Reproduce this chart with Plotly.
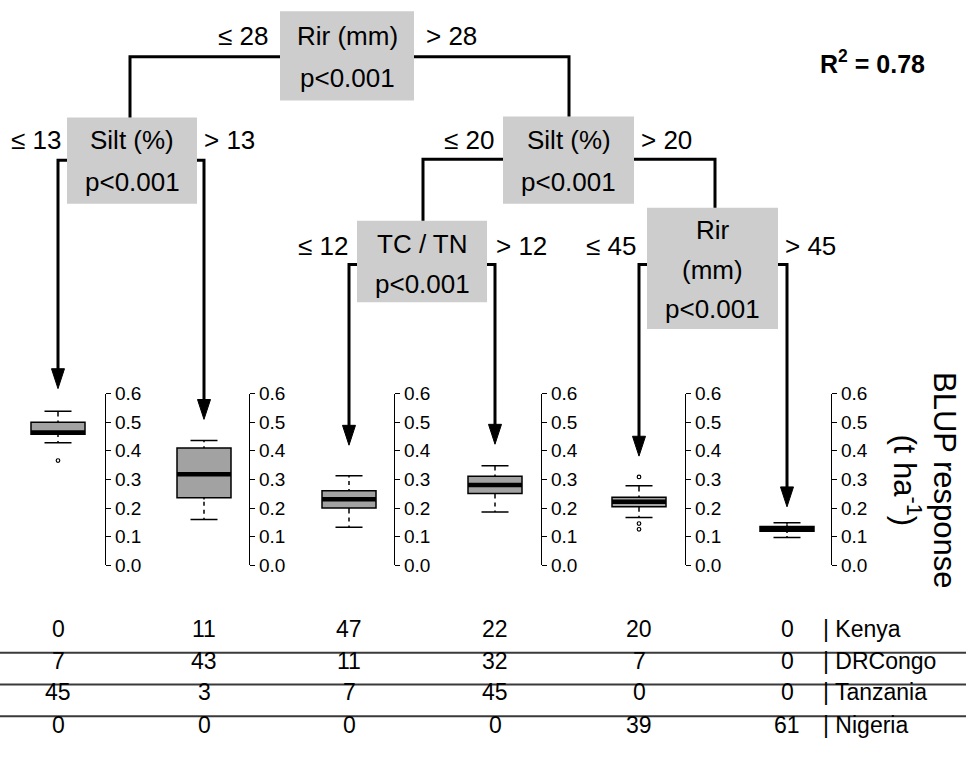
import plotly.graph_objects as go

W, H = 968, 758

# ---------------- data ----------------
# terminal-node BLUP response distributions (t ha-1)
leaf_lower = [0.428, 0.160, 0.133, 0.186, 0.167, 0.097]
leaf_q1 = [0.458, 0.236, 0.200, 0.251, 0.205, 0.119]
leaf_median = [0.464, 0.318, 0.231, 0.281, 0.222, 0.128]
leaf_q3 = [0.500, 0.410, 0.261, 0.311, 0.238, 0.136]
leaf_upper = [0.538, 0.436, 0.313, 0.348, 0.278, 0.149]
leaf_outliers = [[0.366], [], [], [], [0.309, 0.146, 0.126], []]

# inner nodes: split variable and p-value
node_labels = [["Rir (mm)", "p<0.001"],
               ["Silt (%)", "p<0.001"],
               ["Silt (%)", "p<0.001"],
               ["TC / TN", "p<0.001"],
               ["Rir", "(mm)", "p<0.001"]]
split_left = ["\u2264 28", "\u2264 13", "\u2264 20", "\u2264 12", "\u2264 45"]
split_right = ["> 28", "> 13", "> 20", "> 12", "> 45"]

r_squared = 0.78

# sites per terminal node, by country
countries = ["Kenya", "DRCongo", "Tanzania", "Nigeria"]
kenya_n = [0, 11, 47, 22, 20, 0]
drcongo_n = [7, 43, 11, 32, 7, 0]
tanzania_n = [45, 3, 7, 45, 0, 0]
nigeria_n = [0, 0, 0, 0, 39, 61]
country_counts = [kenya_n, drcongo_n, tanzania_n, nigeria_n]

y_ticks = [0.0, 0.1, 0.2, 0.3, 0.4, 0.5, 0.6]

# ---------------- layout geometry (pixels from the top-left corner) ----------------
FONT = "Liberation Sans, Arial, sans-serif"
leaf_x = [58, 204, 349, 495, 639, 787]          # box centres
axis_x = [105, 249, 394, 541, 685, 831]         # right-hand value axes
box_w = 54
axis_top, axis_bottom = 394, 567                # 0.6 and 0.0 positions

# node rectangles (x0, y0, x1, y1) and text line centres
node_rects = [(280, 9, 414, 99), (67, 116, 197, 203), (503, 115, 634, 203),
              (357, 220, 487, 302), (647, 207, 778, 329)]
node_text_y = [[34, 76], [139, 181], [139, 181], [243, 284], [229, 270, 309]]
split_left_xy = [(243, 34), (36, 139), (469, 139), (323, 245), (611, 245)]
split_right_xy = [(451, 34), (229, 139), (666, 139), (521, 245), (810, 245)]

# connectors between nodes
connectors = [
    [(280, 55), (130, 55), (130, 116)],
    [(414, 55), (569, 55), (569, 115)],
    [(503, 158), (423, 158), (423, 220)],
    [(634, 158), (715, 158), (715, 207)],
]
# brackets from inner nodes down to the terminal nodes: (start, leaf index, arrow tip y)
leaf_arrows = [((67, 159), 0, 389), ((197, 159), 1, 420),
               ((357, 264), 2, 446), ((487, 264), 3, 445),
               ((647, 264), 4, 457), ((778, 264), 5, 508)]

table_row_y = [631, 663, 695, 728]
table_rule_y = [655, 687, 719]

# vertical placement: the page is framed with a small top/bottom inset
Y_SCALE, Y_SHIFT = 0.979, 7.8


def fx(x):
    return x / W


def fy(y):
    return 1 - ((y - Y_SHIFT) / Y_SCALE) / H


fig = go.Figure()
shapes = []
annotations = []

# ---------------- tree ----------------
for rect, lines, ys in zip(node_rects, node_labels, node_text_y):
    x0, y0, x1, y1 = rect
    shapes.append(dict(type="rect", xref="paper", yref="paper",
                       x0=fx(x0), x1=fx(x1), y0=fy(y1), y1=fy(y0),
                       fillcolor="#cdcdcd", line=dict(width=0), layer="below"))
    for txt, ty in zip(lines, ys):
        annotations.append(dict(xref="paper", yref="paper", x=fx((x0 + x1) / 2), y=fy(ty),
                                text=txt, showarrow=False, xanchor="center", yanchor="middle",
                                font=dict(family=FONT, size=26, color="black")))

for lab, (tx, ty) in zip(split_left + split_right, split_left_xy + split_right_xy):
    annotations.append(dict(xref="paper", yref="paper", x=fx(tx), y=fy(ty), text=lab,
                            showarrow=False, xanchor="center", yanchor="middle",
                            font=dict(family=FONT, size=26, color="black")))


def polyline(pts, width=3):
    path = "M " + " L ".join(f"{fx(x):.5f},{fy(y):.5f}" for x, y in pts)
    shapes.append(dict(type="path", xref="paper", yref="paper", path=path,
                       line=dict(color="black", width=width)))


for pts in connectors:
    polyline(pts)

head_len, head_half = 20, 6.5
for (sx, sy), leaf, tip in leaf_arrows:
    cx = leaf_x[leaf]
    polyline([(sx, sy), (cx, sy), (cx, tip - head_len + 2)])
    tri = (f"M {fx(cx - head_half):.5f},{fy(tip - head_len):.5f} "
           f"L {fx(cx + head_half):.5f},{fy(tip - head_len):.5f} "
           f"L {fx(cx):.5f},{fy(tip):.5f} Z")
    shapes.append(dict(type="path", xref="paper", yref="paper", path=tri,
                       fillcolor="black", line=dict(color="black", width=1)))

annotations.append(dict(xref="paper", yref="paper", x=fx(872), y=fy(60),
                        text=f"<b>R<sup>2</sup> = {r_squared:.2f}</b>", showarrow=False,
                        xanchor="center", yanchor="middle",
                        font=dict(family=FONT, size=25, color="black")))

# ---------------- terminal-node boxplots ----------------
y_dom = [fy(axis_bottom), fy(axis_top)]
half = 45
axes_layout = {}
for i in range(6):
    n = "" if i == 0 else str(i + 1)
    xa, ya = "x" + n, "y" + n
    fig.add_trace(go.Box(
        x=[0], q1=[leaf_q1[i]], median=[leaf_median[i]], q3=[leaf_q3[i]],
        lowerfence=[leaf_lower[i]], upperfence=[leaf_upper[i]],
        width=box_w, whiskerwidth=0.5, fillcolor="#a2a2a2",
        line=dict(color="black", width=1.5), boxpoints=False,
        xaxis=xa, yaxis=ya, showlegend=False, hoverinfo="skip"))
    # dashed whisker stems: white gaps over the solid stems
    eps = 0.006
    for a, b in [(leaf_q3[i] + eps, leaf_upper[i] - eps), (leaf_lower[i] + eps, leaf_q1[i] - eps)]:
        if b > a:
            fig.add_trace(go.Scatter(x=[0, 0], y=[a, b], mode="lines",
                                     line=dict(color="white", width=2.2, dash="4px,4px"),
                                     xaxis=xa, yaxis=ya, showlegend=False, hoverinfo="skip"))
    # heavy median bar
    fig.add_trace(go.Scatter(x=[-box_w / 2, box_w / 2], y=[leaf_median[i]] * 2, mode="lines",
                             line=dict(color="black", width=4.5),
                             xaxis=xa, yaxis=ya, showlegend=False, hoverinfo="skip"))
    if leaf_outliers[i]:
        fig.add_trace(go.Scatter(x=[0] * len(leaf_outliers[i]), y=leaf_outliers[i], mode="markers",
                                 marker=dict(symbol="circle-open", size=3.6, color="black",
                                             line=dict(width=1.2, color="black")),
                                 xaxis=xa, yaxis=ya, showlegend=False, hoverinfo="skip"))

    axes_layout["xaxis" + n] = dict(domain=[fx(leaf_x[i] - half), fx(leaf_x[i] + half)],
                                    range=[-half, half], visible=False, anchor=ya,
                                    fixedrange=True)
    axes_layout["yaxis" + n] = dict(domain=y_dom, range=[0, 0.6], anchor="free",
                                    position=fx(axis_x[i]), side="right",
                                    showline=True, linecolor="black", linewidth=1.4,
                                    ticks="outside", ticklen=5, tickwidth=1.4, tickcolor="black",
                                    tickvals=y_ticks, ticktext=[f"{v:.1f}" for v in y_ticks],
                                    tickfont=dict(family=FONT, size=19, color="black"),
                                    showgrid=False, zeroline=False, fixedrange=True)

annotations.append(dict(xref="paper", yref="paper", x=fx(924), y=fy(481),
                        text="BLUP response<br>(t ha<sup>-1</sup>)", showarrow=False,
                        textangle=90, xanchor="center", yanchor="middle",
                        font=dict(family=FONT, size=31, color="black")))

# ---------------- site table ----------------
for r, (name, counts) in enumerate(zip(countries, country_counts)):
    for c, v in enumerate(counts):
        annotations.append(dict(xref="paper", yref="paper", x=fx(leaf_x[c]), y=fy(table_row_y[r]),
                                text=str(v), showarrow=False, xanchor="center", yanchor="middle",
                                font=dict(family=FONT, size=23, color="black")))
    annotations.append(dict(xref="paper", yref="paper", x=fx(821), y=fy(table_row_y[r]),
                            text="| " + name, showarrow=False, xanchor="left", yanchor="middle",
                            font=dict(family=FONT, size=23, color="black")))
for ry in table_rule_y:
    shapes.append(dict(type="line", xref="paper", yref="paper", x0=0, x1=fx(966),
                       y0=fy(ry), y1=fy(ry), line=dict(color="#3a3a3a", width=2)))

fig.update_layout(width=W, height=H, margin=dict(l=0, r=0, t=0, b=0),
                  paper_bgcolor="white", plot_bgcolor="rgba(0,0,0,0)",
                  shapes=shapes, annotations=annotations, showlegend=False,
                  **axes_layout)

fig.write_html("out.html")
